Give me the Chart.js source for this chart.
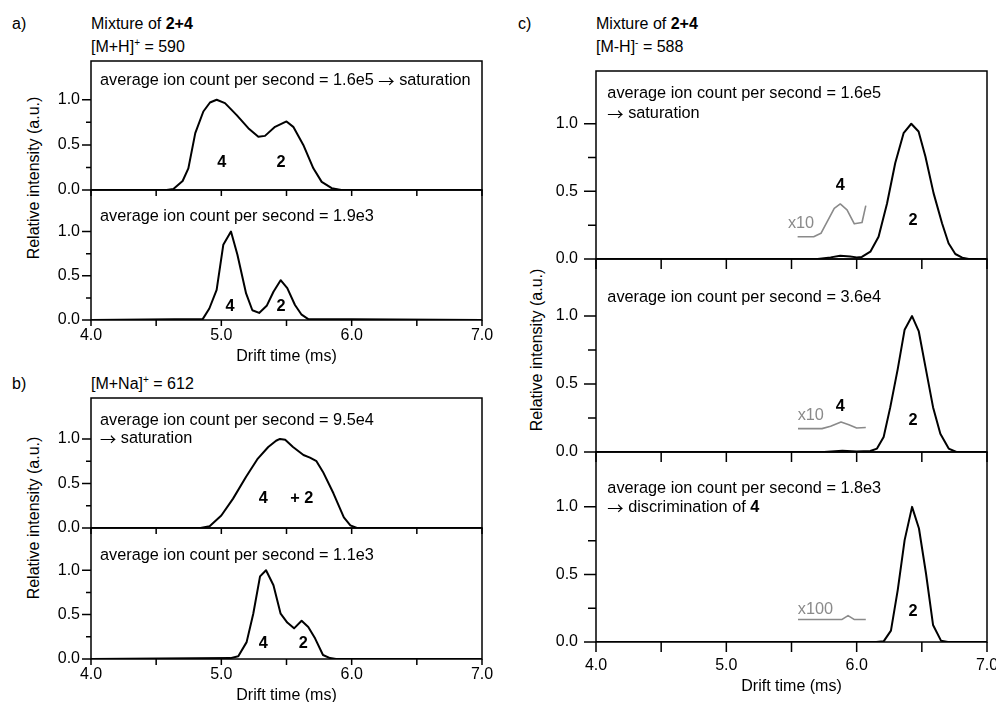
<!DOCTYPE html>
<html>
<head>
<meta charset="utf-8">
<script src="https://cdn.jsdelivr.net/npm/chart.js@4.4.1/dist/chart.umd.min.js"></script>
<style>
  html, body { margin: 0; padding: 0; width: 996px; height: 702px; overflow: hidden; background: #fff; }
  body { position: relative; font-family: 'Liberation Sans', Arial, sans-serif; color: #000; }
  canvas { position: absolute; }
  .t { position: absolute; font-size: 16px; line-height: 20px; white-space: nowrap; }
  .t sup { font-size: 10px; line-height: 0; vertical-align: 6px; }
  .yt { position: absolute; font-size: 16px; line-height: 20px; white-space: nowrap;
        transform: translate(-50%, -50%) rotate(-90deg); }
</style>
</head>
<body>
<div class="t" style="left:12px;top:14px;">a)</div>
<div class="t" style="left:91px;top:14px;">Mixture of <b>2+4</b></div>
<div class="t" style="left:91px;top:37px;">[M+H]<sup>+</sup> = 590</div>
<div class="t" style="left:12px;top:374px;">b)</div>
<div class="t" style="left:91px;top:374px;">[M+Na]<sup>+</sup> = 612</div>
<div class="t" style="left:518px;top:14px;">c)</div>
<div class="t" style="left:596px;top:14px;">Mixture of <b>2+4</b></div>
<div class="t" style="left:596px;top:37px;">[M-H]<sup>-</sup> = 588</div>
<div class="yt" style="left:34px;top:178px;">Relative intensity (a.u.)</div>
<div class="yt" style="left:34px;top:518px;">Relative intensity (a.u.)</div>
<div class="yt" style="left:537px;top:350px;">Relative intensity (a.u.)</div>

<script>
// Axis ticks (drift time in ms, relative intensity)
const xTickLabels = [4, 5, 6, 7];
const xTickMarks = [4, 4.5, 5, 5.5, 6, 6.5, 7];
const yTickLabels = [0, 0.5, 1];
const yTickMarks = [0, 0.25, 0.5, 0.75, 1];

// a) [M+H]+ = 590, high ion count
const a1Time = [4.0, 4.58, 4.632, 4.703, 4.747, 4.80, 4.862, 4.913, 4.964, 5.028, 5.118, 5.207, 5.284, 5.335, 5.412, 5.50, 5.552, 5.629, 5.706, 5.77, 5.847, 5.92, 7.0];
const a1Intensity = [0, 0, 0.01, 0.10, 0.24, 0.63, 0.87, 0.97, 1.0, 0.963, 0.83, 0.685, 0.59, 0.60, 0.70, 0.76, 0.70, 0.50, 0.24, 0.09, 0.02, 0, 0];

// a) [M+H]+ = 590, low ion count
const a2Time = [4.0, 4.857, 4.908, 4.964, 5.015, 5.074, 5.123, 5.19, 5.238, 5.29, 5.348, 5.40, 5.455, 5.506, 5.565, 5.616, 5.667, 7.0];
const a2Intensity = [0, 0.01, 0.13, 0.34, 0.85, 1.0, 0.74, 0.30, 0.11, 0.08, 0.16, 0.32, 0.45, 0.36, 0.17, 0.06, 0.01, 0];

// b) [M+Na]+ = 612, high ion count
const b1Time = [4.0, 4.84, 4.91, 5.0, 5.09, 5.19, 5.28, 5.36, 5.42, 5.45, 5.49, 5.55, 5.63, 5.68, 5.73, 5.78, 5.86, 5.94, 5.99, 6.04, 7.0];
const b1Intensity = [0, 0, 0.02, 0.14, 0.33, 0.575, 0.78, 0.91, 0.98, 1.0, 0.99, 0.91, 0.82, 0.79, 0.75, 0.63, 0.39, 0.12, 0.03, 0, 0];

// b) [M+Na]+ = 612, low ion count
const b2Time = [4.0, 5.07, 5.13, 5.194, 5.245, 5.297, 5.343, 5.40, 5.455, 5.506, 5.558, 5.616, 5.667, 5.72, 5.78, 5.834, 5.88, 7.0];
const b2Intensity = [0, 0.01, 0.03, 0.19, 0.51, 0.93, 1.0, 0.83, 0.51, 0.41, 0.345, 0.43, 0.36, 0.23, 0.045, 0.01, 0, 0];

// c) [M-H]- = 588, 1.6e5 counts/s
const c1Time = [4.0, 5.70, 5.80, 5.874, 5.95, 6.0, 6.04, 6.105, 6.168, 6.233, 6.296, 6.36, 6.419, 6.475, 6.527, 6.59, 6.655, 6.705, 6.757, 6.81, 6.86, 7.0];
const c1Intensity = [0, 0, 0.012, 0.024, 0.018, 0.012, 0.015, 0.054, 0.165, 0.41, 0.71, 0.93, 1.0, 0.943, 0.76, 0.487, 0.264, 0.116, 0.037, 0.01, 0, 0];
const c1ZoomTime = [5.547, 5.67, 5.726, 5.828, 5.874, 5.926, 5.982, 6.041, 6.07];
const c1ZoomIntensity = [0.165, 0.165, 0.19, 0.375, 0.407, 0.363, 0.26, 0.27, 0.395];

// c) [M-H]- = 588, 3.6e4 counts/s
const c2Time = [4.0, 5.75, 5.89, 6.0, 6.105, 6.156, 6.207, 6.258, 6.315, 6.368, 6.425, 6.476, 6.527, 6.586, 6.642, 6.706, 6.765, 7.0];
const c2Intensity = [0, 0, 0.01, 0.003, 0.007, 0.025, 0.11, 0.33, 0.61, 0.90, 1.0, 0.89, 0.63, 0.33, 0.135, 0.025, 0, 0];
const c2ZoomTime = [5.55, 5.734, 5.80, 5.88, 5.94, 6.0, 6.07];
const c2ZoomIntensity = [0.172, 0.172, 0.19, 0.22, 0.20, 0.177, 0.18];

// c) [M-H]- = 588, 1.8e3 counts/s
const c3Time = [4.0, 6.15, 6.207, 6.263, 6.315, 6.368, 6.425, 6.478, 6.532, 6.586, 6.647, 6.70, 7.0];
const c3Intensity = [0, 0, 0.005, 0.084, 0.384, 0.754, 1.0, 0.84, 0.507, 0.126, 0.01, 0, 0];
const c3ZoomTime = [5.55, 5.888, 5.934, 5.98, 6.07];
const c3ZoomIntensity = [0.167, 0.167, 0.195, 0.167, 0.167];

const FONT = "'Liberation Sans', Arial, sans-serif";
const ARROW_FONT = "'Noto Sans CJK JP', 'DejaVu Sans', sans-serif";
const NOTE_SIZE = 16.3;
const BLACK = '#000000';
const GREY = '#8a8a8a';
const Y_W = 70, PAD_T = 30, PAD_R = 30, X_H_PLAIN = 30;
const STYLES = {
  ab: { xTick: 6, yMajor: 9, yMinor: 5, yPad: 11, xPad: 6, xTitlePad: 4, xH: 50 },
  c:  { xTick: 10, yMajor: 12, yMinor: 8, yPad: 18, xPad: 14, xTitlePad: 6, xH: 60 }
};

const ARROW = ['\u2192', 'arrow'];
const rate = s => [['average ion count per second = ' + s]];

const subplots = [
  { box: [91, 61, 391, 129], yMax: 1.43, style: 'ab', bottom: false,
    series: [[a1Time, a1Intensity, BLACK, 2]],
    notes: [
      { t: 4.069, v: 1.211, parts: [['average ion count per second = 1.6e5 '], ARROW, [' saturation']] },
      { t: 5.003, v: 0.30, parts: [['4', 'bold']], align: 'center' },
      { t: 5.458, v: 0.30, parts: [['2', 'bold']], align: 'center' }
    ] },
  { box: [91, 190, 391, 130], yMax: 1.47, style: 'ab', bottom: true,
    series: [[a2Time, a2Intensity, BLACK, 2]],
    notes: [
      { t: 4.069, v: 1.168, parts: rate('1.9e3') },
      { t: 5.067, v: 0.15, parts: [['4', 'bold']], align: 'center' },
      { t: 5.458, v: 0.15, parts: [['2', 'bold']], align: 'center' }
    ] },
  { box: [91, 398, 391, 130], yMax: 1.46, style: 'ab', bottom: false,
    series: [[b1Time, b1Intensity, BLACK, 2]],
    notes: [
      { t: 4.069, v: 1.202, parts: rate('9.5e4') },
      { t: 4.069, v: 1.0, parts: [ARROW, [' saturation']] },
      { t: 5.322, v: 0.33, parts: [['4', 'bold']], align: 'center' },
      { t: 5.617, v: 0.33, parts: [['+ 2', 'bold']], align: 'center' }
    ] },
  { box: [91, 528, 391, 131], yMax: 1.475, style: 'ab', bottom: true,
    series: [[b2Time, b2Intensity, BLACK, 2]],
    notes: [
      { t: 4.069, v: 1.16, parts: rate('1.1e3') },
      { t: 5.322, v: 0.177, parts: [['4', 'bold']], align: 'center' },
      { t: 5.629, v: 0.177, parts: [['2', 'bold']], align: 'center' }
    ] },
  { box: [596, 71, 391, 188], yMax: 1.39, style: 'c', bottom: false,
    series: [[c1Time, c1Intensity, BLACK, 2], [c1ZoomTime, c1ZoomIntensity, GREY, 1.6]],
    notes: [
      { t: 4.087, v: 1.22, parts: rate('1.6e5') },
      { t: 4.087, v: 1.077, parts: [ARROW, [' saturation']] },
      { t: 5.573, v: 0.26, parts: [['x10']], align: 'center', color: GREY },
      { t: 5.874, v: 0.54, parts: [['4', 'bold']], align: 'center' },
      { t: 6.432, v: 0.284, parts: [['2', 'bold']], align: 'center' }
    ] },
  { box: [596, 259, 391, 193], yMax: 1.42, style: 'c', bottom: false,
    series: [[c2Time, c2Intensity, BLACK, 2], [c2ZoomTime, c2ZoomIntensity, GREY, 1.6]],
    notes: [
      { t: 4.087, v: 1.135, parts: rate('3.6e4') },
      { t: 5.648, v: 0.267, parts: [['x10']], align: 'center', color: GREY },
      { t: 5.874, v: 0.333, parts: [['4', 'bold']], align: 'center' },
      { t: 6.432, v: 0.235, parts: [['2', 'bold']], align: 'center' }
    ] },
  { box: [596, 452, 391, 190], yMax: 1.406, style: 'c', bottom: true,
    series: [[c3Time, c3Intensity, BLACK, 2], [c3ZoomTime, c3ZoomIntensity, GREY, 1.6]],
    notes: [
      { t: 4.087, v: 1.138, parts: rate('1.8e3') },
      { t: 4.087, v: 0.994, parts: [ARROW, [' discrimination of '], ['4', 'bold']] },
      { t: 5.684, v: 0.244, parts: [['x100']], align: 'center', color: GREY },
      { t: 6.432, v: 0.229, parts: [['2', 'bold']], align: 'center' }
    ] }
];

function partFont(kind) {
  if (kind === 'bold') return 'bold ' + NOTE_SIZE + 'px ' + FONT;
  if (kind === 'arrow') return NOTE_SIZE + 'px ' + ARROW_FONT;
  return NOTE_SIZE + 'px ' + FONT;
}

// Frame, tick marks and in-plot labels for one subplot
function makeFrame(spec) {
  const st = STYLES[spec.style];
  return {
    id: 'frame',
    afterDatasetsDraw(chart) {
      const { ctx, chartArea: a, scales: { x, y } } = chart;
      ctx.save();
      ctx.strokeStyle = BLACK;
      ctx.lineWidth = 1.5;
      ctx.strokeRect(a.left, a.top, a.right - a.left, a.bottom - a.top);
      ctx.beginPath();
      xTickMarks.forEach(t => {
        const px = x.getPixelForValue(t);
        ctx.moveTo(px, a.bottom);
        ctx.lineTo(px, a.bottom + st.xTick);
      });
      yTickMarks.forEach(v => {
        const py = y.getPixelForValue(v);
        const len = yTickLabels.includes(v) ? st.yMajor : st.yMinor;
        ctx.moveTo(a.left - len, py);
        ctx.lineTo(a.left, py);
      });
      ctx.stroke();

      ctx.textBaseline = 'middle';
      ctx.textAlign = 'left';
      spec.notes.forEach(n => {
        const fonts = n.parts.map(p => partFont(p[1]));
        const widths = n.parts.map((p, i) => { ctx.font = fonts[i]; return ctx.measureText(p[0]).width; });
        const total = widths.reduce((s, w) => s + w, 0);
        let px = x.getPixelForValue(n.t);
        if (n.align === 'center') px -= total / 2;
        const py = y.getPixelForValue(n.v);
        ctx.fillStyle = n.color || BLACK;
        n.parts.forEach((p, i) => {
          ctx.font = fonts[i];
          ctx.fillText(p[0], px, py);
          px += widths[i];
        });
      });
      ctx.restore();
    }
  };
}

subplots.forEach(spec => {
  const st = STYLES[spec.style];
  const [left, top, w, h] = spec.box;
  const xH = spec.bottom ? st.xH : X_H_PLAIN;
  const canvas = document.createElement('canvas');
  canvas.width = Y_W + w + PAD_R;
  canvas.height = PAD_T + h + xH;
  canvas.style.left = (left - Y_W) + 'px';
  canvas.style.top = (top - PAD_T) + 'px';
  canvas.style.width = canvas.width + 'px';
  canvas.style.height = canvas.height + 'px';
  document.body.appendChild(canvas);

  const tickFont = { family: FONT, size: 16 };
  new Chart(canvas, {
    type: 'line',
    data: {
      datasets: spec.series.map(([t, v, color, width]) => ({
        data: t.map((tt, i) => ({ x: tt, y: v[i] })),
        borderColor: color,
        borderWidth: width,
        pointRadius: 0,
        tension: 0,
        fill: false,
        borderJoinStyle: 'round'
      }))
    },
    options: {
      responsive: false,
      animation: false,
      devicePixelRatio: 1,
      layout: { padding: { top: PAD_T, right: PAD_R, left: 0, bottom: 0 } },
      plugins: { legend: { display: false }, tooltip: { enabled: false } },
      scales: {
        x: {
          type: 'linear', min: 4, max: 7,
          grid: { display: false, drawTicks: false },
          border: { display: false },
          afterBuildTicks: s => { s.ticks = xTickLabels.map(value => ({ value })); },
          afterFit: s => { s.height = xH; },
          ticks: { display: spec.bottom, padding: st.xPad, font: tickFont, color: BLACK,
                   autoSkip: false, maxRotation: 0, callback: v => Number(v).toFixed(1) },
          title: { display: spec.bottom, text: 'Drift time (ms)', font: tickFont, color: BLACK,
                   padding: { top: 0, bottom: st.xTitlePad } }
        },
        y: {
          type: 'linear', min: 0, max: spec.yMax,
          grid: { display: false, drawTicks: false },
          border: { display: false },
          afterBuildTicks: s => { s.ticks = yTickLabels.map(value => ({ value })); },
          afterFit: s => { s.width = Y_W; },
          ticks: { padding: st.yPad, font: tickFont, color: BLACK, autoSkip: false,
                   callback: v => Number(v).toFixed(1) }
        }
      }
    },
    plugins: [makeFrame(spec)]
  });
});
</script>
</body>
</html>
